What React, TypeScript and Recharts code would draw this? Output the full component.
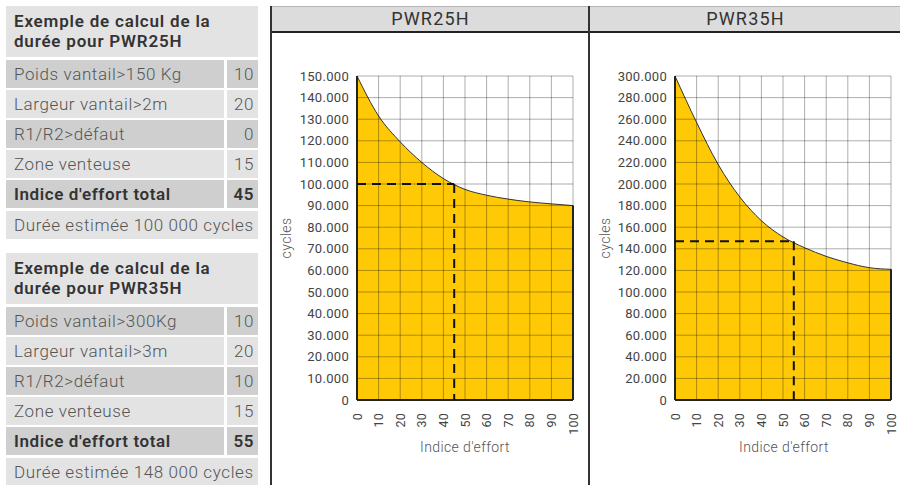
import { AreaChart, Area, XAxis, YAxis, ReferenceLine } from 'recharts';

const effort = [0, 10, 20, 30, 40, 50, 60, 70, 80, 90, 100];
const cycles25 = [150000, 131500, 119500, 110000, 102500, 97500, 94800, 93000, 91700, 90800, 90000];
const cycles35 = [300000, 257000, 218000, 188000, 166000, 151000, 141000, 133000, 127000, 122500, 121000];

const ticks25 = [0, 10000, 20000, 30000, 40000, 50000, 60000, 70000, 80000, 90000, 100000, 110000, 120000, 130000, 140000, 150000];
const ticks35 = [0, 20000, 40000, 60000, 80000, 100000, 120000, 140000, 160000, 180000, 200000, 220000, 240000, 260000, 280000, 300000];

const table25 = [
  ['Poids vantail>150 Kg', '10'],
  ['Largeur vantail>2m', '20'],
  ['R1/R2>défaut', '0'],
  ['Zone venteuse', '15'],
  ['Indice d\'effort total', '45'],
];
const table35 = [
  ['Poids vantail>300Kg', '10'],
  ['Largeur vantail>3m', '20'],
  ['R1/R2>défaut', '10'],
  ['Zone venteuse', '15'],
  ['Indice d\'effort total', '55'],
];

const FONT = 'Roboto, "DejaVu Sans", sans-serif';
const YELLOW = '#FFCA05';
const DARK_ROW = '#cfcfcf';
const LIGHT_ROW = '#e3e3e3';

const fmt = (v: number) => (v === 0 ? '0' : (v / 1000).toFixed(0) + '.000');

function XTick(props: any) {
  const { x, y, payload } = props;
  return (
    <text
      x={x + 4.5}
      y={y + 5}
      transform={`rotate(-90 ${x + 4.5} ${y + 5})`}
      textAnchor="end"
      fontSize={12.5}
      letterSpacing={0.2}
      fill="#444"
      fontFamily={FONT}
    >
      {payload.value}
    </text>
  );
}

function CalcTable({ top, title, rows, total }: { top: number; title: string[]; rows: string[][]; total: string }) {
  const txt = { fontSize: 17, letterSpacing: 0.6, fontWeight: 300 };
  return (
    <div style={{ position: 'absolute', left: 6, top, width: 252 }}>
      <div
        style={{
          height: 51,
          background: LIGHT_ROW,
          fontWeight: 600,
          fontSize: 17,
          letterSpacing: 0.8,
          lineHeight: '20px',
          color: '#333',
          padding: '5px 0 0 8px',
          boxSizing: 'border-box',
          whiteSpace: 'nowrap',
        }}
      >
        {title[0]}
        <br />
        {title[1]}
      </div>
      {rows.map((r, i) => {
        const bg = i % 2 === 0 ? DARK_ROW : LIGHT_ROW;
        const bold = i === rows.length - 1;
        const style = {
          position: 'absolute' as const,
          top: 54 + i * 30,
          height: 28,
          lineHeight: '28px',
          background: bg,
          ...txt,
          fontWeight: bold ? 600 : 300,
          color: bold ? '#333' : '#555',
          whiteSpace: 'nowrap' as const,
        };
        return (
          <div key={i}>
            <div style={{ ...style, left: 0, width: 218, paddingLeft: 8, boxSizing: 'border-box' }}>{r[0]}</div>
            <div style={{ ...style, left: 221, width: 31, textAlign: 'right', paddingRight: 4, boxSizing: 'border-box' }}>{r[1]}</div>
          </div>
        );
      })}
      <div
        style={{
          position: 'absolute',
          top: 54 + rows.length * 30 + 1,
          left: 0,
          width: 252,
          height: 28,
          lineHeight: '28px',
          background: LIGHT_ROW,
          ...txt,
          color: '#555',
          paddingLeft: 8,
          boxSizing: 'border-box',
          whiteSpace: 'nowrap',
        }}
      >
        {total}
      </div>
    </div>
  );
}

function Chart({
  left,
  values,
  yTicks,
  yMax,
  mark,
  markX,
}: {
  left: number;
  values: number[];
  yTicks: number[];
  yMax: number;
  mark: number;
  markX: number;
}) {
  const data = effort.map((e, i) => ({ e, v: values[i] }));
  const gridStroke = 'rgba(0,0,0,0.32)';
  return (
    <div style={{ position: 'absolute', left, top: 33 }}>
      <AreaChart width={317} height={452} data={data} margin={{ top: 43, right: 16, left: 0, bottom: 35 }}>
        <XAxis
          dataKey="e"
          type="number"
          domain={[0, 100]}
          ticks={effort}
          tick={<XTick />}
          tickLine={false}
          axisLine={false}
          height={50}
          interval={0}
        />
        <YAxis
          type="number"
          domain={[0, yMax]}
          ticks={yTicks}
          tickFormatter={fmt}
          tick={{ fontSize: 13, fill: '#444', fontFamily: FONT, letterSpacing: 0.3 }}
          tickLine={false}
          axisLine={false}
          width={85}
          interval={0}
        />
        <Area
          type="monotone"
          dataKey="v"
          stroke="#333"
          strokeWidth={1}
          fill={YELLOW}
          fillOpacity={1}
          isAnimationActive={false}
        />
        {effort.slice(1).map((t) => (
          <ReferenceLine key={'x' + t} x={t} stroke={gridStroke} strokeWidth={1} />
        ))}
        {yTicks.slice(1).map((t) => (
          <ReferenceLine key={'y' + t} y={t} stroke={gridStroke} strokeWidth={1} />
        ))}
        <ReferenceLine
          segment={[{ x: 100, y: 0 }, { x: 100, y: values[values.length - 1] }]}
          stroke="#222"
          strokeWidth={2}
        />
        <ReferenceLine x={0} stroke="#222" strokeWidth={2} />
        <ReferenceLine y={0} stroke="#222" strokeWidth={2} />
        <ReferenceLine
          segment={[{ x: 0, y: mark }, { x: markX, y: mark }]}
          stroke="#111"
          strokeWidth={2}
          strokeDasharray="9 6"
        />
        <ReferenceLine
          segment={[{ x: markX, y: mark }, { x: markX, y: 0 }]}
          stroke="#111"
          strokeWidth={2}
          strokeDasharray="9 6"
        />
      </AreaChart>
    </div>
  );
}

export default function App() {
  const head = {
    position: 'absolute' as const,
    top: 7,
    height: 24,
    lineHeight: '24px',
    textAlign: 'center' as const,
    fontSize: 18,
    letterSpacing: 1.2,
    color: '#333',
  };
  const axisTitle = { position: 'absolute' as const, fontSize: 14, letterSpacing: 0.4, fontWeight: 300, color: '#555' };
  return (
    <div
      style={{
        position: 'absolute',
        left: 0,
        top: 0,
        width: 900,
        height: 485,
        background: '#fff',
        fontFamily: FONT,
        overflow: 'hidden',
      }}
    >
      <CalcTable top={6} title={['Exemple de calcul de la', 'durée pour PWR25H']} rows={table25} total="Durée estimée 100 000 cycles" />
      <CalcTable top={253} title={['Exemple de calcul de la', 'durée pour PWR35H']} rows={table35} total="Durée estimée 148 000 cycles" />

      <div
        style={{
          position: 'absolute',
          left: 272,
          top: 6,
          width: 628,
          height: 27,
          background: '#dcdcdc',
          borderTop: '1px solid #b5b5b5',
          borderBottom: '2px solid #222',
          boxSizing: 'border-box',
        }}
      />
      <div style={{ ...head, left: 272, width: 317 }}>PWR25H</div>
      <div style={{ ...head, left: 591, width: 309 }}>PWR35H</div>
      <div style={{ position: 'absolute', left: 270, top: 6, width: 2, height: 479, background: '#333' }} />
      <div style={{ position: 'absolute', left: 588, top: 6, width: 2, height: 479, background: '#333' }} />

      <Chart left={272} values={cycles25} yTicks={ticks25} yMax={150000} mark={100000} markX={45} />
      <Chart left={590} values={cycles35} yTicks={ticks35} yMax={300000} mark={147000} markX={55} />

      <div style={{ ...axisTitle, left: 357, top: 439, width: 216, textAlign: 'center' }}>Indice d'effort</div>
      <div style={{ ...axisTitle, left: 676, top: 439, width: 216, textAlign: 'center' }}>Indice d'effort</div>
      <div style={{ ...axisTitle, left: 286, top: 238, transform: 'translate(-50%,-50%) rotate(-90deg)' }}>cycles</div>
      <div style={{ ...axisTitle, left: 605, top: 238, transform: 'translate(-50%,-50%) rotate(-90deg)' }}>cycles</div>
    </div>
  );
}
